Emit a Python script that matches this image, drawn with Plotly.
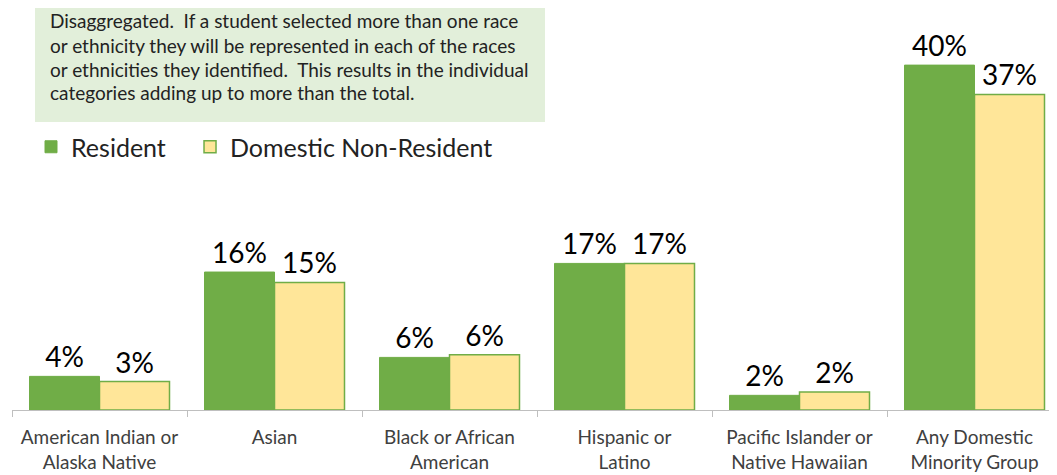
import plotly.graph_objects as go

categories = ["American Indian or<br>Alaska Native", "Asian", "Black or African<br>American",
              "Hispanic or<br>Latino", "Pacific Islander or<br>Native Hawaiian", "Any Domestic<br>Minority Group"]
resident = [3.9, 16.0, 6.1, 17.0, 1.7, 40.0]
non_resident = [3.3, 14.8, 6.4, 17.0, 2.1, 36.6]
series_names = ["Resident", "Domestic Non-Resident"]

note_lines = [
    "Disaggregated.  If a student selected more than one race",
    "or ethnicity they will be represented in each of the races",
    "or ethnicities they identified.  This results in the individual",
    "categories adding up to more than the total.",
]

GREEN = "#70AD47"
YELLOW = "#FFE699"
FONT = "Lato, Open Sans, sans-serif"

fig = go.Figure()
fig.add_trace(go.Bar(x=categories, y=resident, name=series_names[0] + "&nbsp;&nbsp;&nbsp;",
                     marker=dict(color=GREEN, line=dict(color=GREEN, width=1)),
                     texttemplate="%{y:.0f}%", textposition="outside",
                     textfont=dict(size=28, color="#000000", family=FONT), cliponaxis=False))
fig.add_trace(go.Bar(x=categories, y=non_resident, name=series_names[1],
                     marker=dict(color=YELLOW, line=dict(color=GREEN, width=1.5)),
                     texttemplate="%{y:.0f}%", textposition="outside",
                     textfont=dict(size=28, color="#000000", family=FONT), cliponaxis=False))

# page body adds an 8px offset; figure coordinates are screen coordinates minus 8
OFF = 8
W, H = 1057, 475
L, R, T, B = 4, 3, 14, 73
pw, ph = W - L - R, H - T - B

def px(x):
    return (x - OFF - L) / pw

def py(y):
    return (H - B - (y - OFF)) / ph

fig.add_shape(type="rect", xref="paper", yref="paper",
              x0=px(35), x1=px(545), y0=py(122), y1=py(0),
              fillcolor="#E2EFDA", line=dict(width=0), layer="below")
for i, (line, yy) in enumerate(zip(note_lines, [20, 45, 69, 92])):
    fig.add_annotation(xref="paper", yref="paper", x=px(48), y=py(yy),
                       xanchor="left", yanchor="middle", showarrow=False, text=line,
                       font=dict(size=19, color="#222222", family=FONT), align="left")

fig.update_layout(
    width=W, height=H,
    margin=dict(l=L, r=R, t=T, b=B),
    barmode="group", bargap=0.2, bargroupgap=0,
    plot_bgcolor="white", paper_bgcolor="white",
    font=dict(family=FONT),
    showlegend=True,
    legend=dict(orientation="h", x=px(31), y=py(124), xanchor="left", yanchor="top",
                font=dict(size=25, color="#222222", family=FONT), bgcolor="rgba(0,0,0,0)",
                itemwidth=30),
    xaxis=dict(range=[-0.5, 5.5], showline=True, linecolor="#BFBFBF", linewidth=1,
               ticks="outside", tickson="boundaries", ticklen=6, tickcolor="#BFBFBF",
               ticklabelstandoff=10,
               tickfont=dict(size=19, color="#404040", family=FONT), showgrid=False),
    yaxis=dict(range=[0, 45], visible=False, showgrid=False),
)

fig.write_html("out.html")
